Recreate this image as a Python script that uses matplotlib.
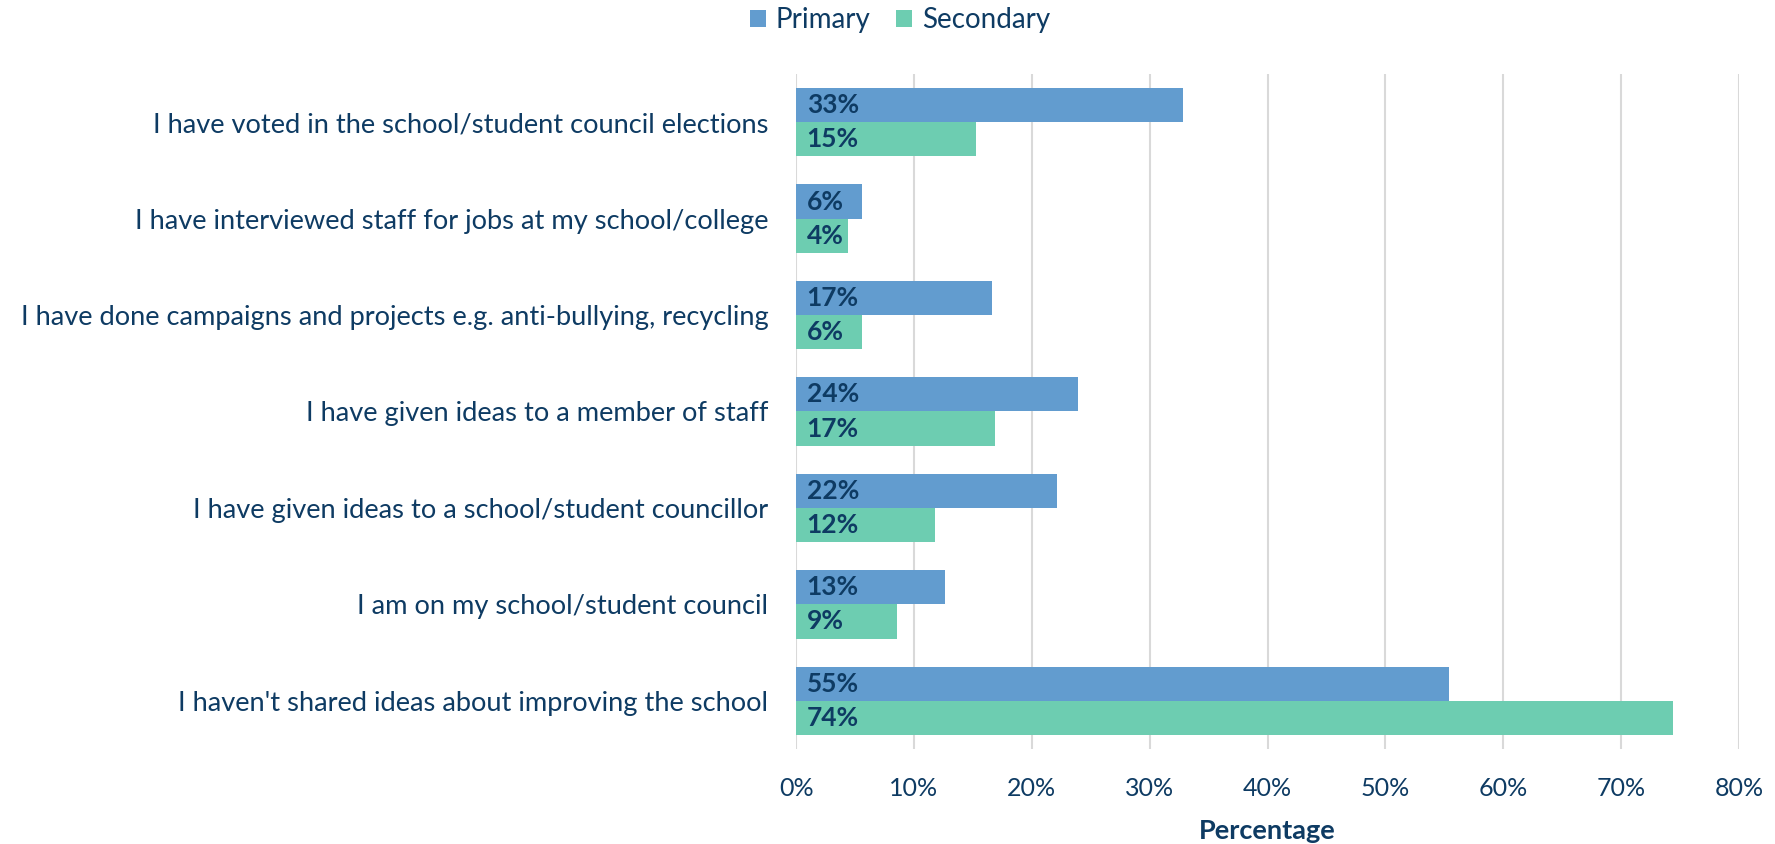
import matplotlib.pyplot as plt
import numpy as np

plt.rcParams['font.family'] = ['Lato', 'DejaVu Sans']

categories = [
    "I have voted in the school/student council elections",
    "I have interviewed staff for jobs at my school/college",
    "I have done campaigns and projects e.g. anti-bullying, recycling",
    "I have given ideas to a member of staff",
    "I have given ideas to a school/student councillor",
    "I am on my school/student council",
    "I haven't shared ideas about improving the school",
]
primary = [32.8, 5.6, 16.6, 23.9, 22.1, 12.6, 55.4]
secondary = [15.3, 4.4, 5.6, 16.9, 11.8, 8.6, 74.4]

blue = '#629ccf'
green = '#6dcdb1'
navy = '#0e3b63'

fig = plt.figure(figsize=(17.75, 8.44), dpi=100)
ax = fig.add_axes([0.4485, 0.1126, 0.5312, 0.7997])

y = np.arange(len(categories))
h = 0.355
ax.barh(y - h / 2, primary, height=h, color=blue, label='Primary', zorder=3)
ax.barh(y + h / 2, secondary, height=h, color=green, label='Secondary', zorder=3)

# value labels inside the start of each bar
for i in range(len(categories)):
    ax.text(0.9, y[i] - h / 2, f"{primary[i]:.0f}%", va='center', ha='left',
            fontsize=19, fontweight='bold', color=navy, zorder=4)
    ax.text(0.9, y[i] + h / 2, f"{secondary[i]:.0f}%", va='center', ha='left',
            fontsize=19, fontweight='bold', color=navy, zorder=4)

ax.set_ylim(len(categories) - 0.5, -0.5)
ax.set_xlim(0, 80)
ax.set_xticks(np.arange(0, 81, 10))
ax.set_xticklabels([f"{v}%" for v in range(0, 81, 10)])
ax.set_yticks(y)
ax.set_yticklabels(categories)
ax.tick_params(axis='y', length=0, pad=20, labelsize=19.6, labelcolor=navy)
ax.tick_params(axis='x', length=0, pad=20, labelsize=18, labelcolor=navy)
ax.grid(axis='x', color='#d9d9d9', linewidth=1.5, zorder=0)
for s in ax.spines.values():
    s.set_visible(False)

ax.set_xlabel('Percentage', fontsize=19.5, fontweight='bold', color=navy, labelpad=14)

fig.legend(loc='center', bbox_to_anchor=(0.507, 0.976), ncol=2, frameon=False,
           fontsize=20, labelcolor=navy, handlelength=0.6, handleheight=0.6,
           handletextpad=0.35, columnspacing=0.9)

fig.savefig('out.png', dpi=100)
